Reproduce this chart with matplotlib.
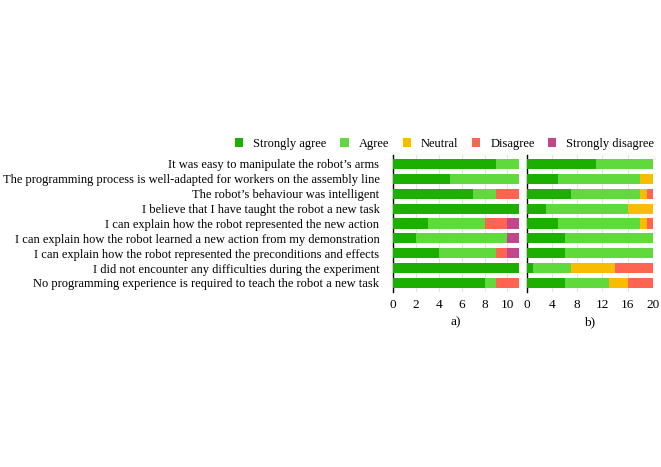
import numpy as np
import matplotlib.pyplot as plt
from matplotlib.patches import Patch

plt.rcParams['font.family'] = ['Liberation Serif', 'DejaVu Serif']

questions = [
    "It was easy to manipulate the robot\u2019s arms",
    "The programming process is well-adapted for workers on the assembly line",
    "The robot\u2019s behaviour was intelligent",
    "I believe that I have taught the robot a new task",
    "I can explain how the robot represented the new action",
    "I can explain how the robot learned a new action from my demonstration",
    "I can explain how the robot represented the preconditions and effects",
    "I did not encounter any difficulties during the experiment",
    "No programming experience is required to teach the robot a new task",
]
levels = ["Strongly agree", "Agree", "Neutral", "Disagree", "Strongly disagree"]
colors = ["#1daf00", "#5fd93b", "#f9bc00", "#ff6452", "#c2478a"]

# group a) - 11 participants
a_sa = [9, 5, 7, 11, 3, 2, 4, 11, 8]
a_ag = [2, 6, 2, 0, 5, 8, 5, 0, 1]
a_ne = [0, 0, 0, 0, 0, 0, 0, 0, 0]
a_di = [0, 0, 2, 0, 2, 0, 1, 0, 2]
a_sd = [0, 0, 0, 0, 1, 1, 1, 0, 0]

# group b) - 20 participants
b_sa = [11, 5, 7, 3, 5, 6, 6, 1, 6]
b_ag = [9, 13, 11, 13, 13, 14, 14, 6, 7]
b_ne = [0, 2, 1, 4, 1, 0, 0, 7, 3]
b_di = [0, 0, 1, 0, 1, 0, 0, 6, 4]
b_sd = [0, 0, 0, 0, 0, 0, 0, 0, 0]

fs = 9

fig = plt.figure(figsize=(6.61, 4.67), dpi=100)
ax1 = fig.add_axes([0.595, 0.375, 0.190, 0.293])
ax2 = fig.add_axes([0.797, 0.375, 0.1906, 0.293])

y = np.arange(len(questions))


def draw(ax, series, xmax, ticks, label):
    left = np.zeros(len(questions))
    for vals, c in zip(series, colors):
        vals = np.array(vals, dtype=float)
        ax.barh(y, vals, left=left, height=0.68, color=c, zorder=3)
        left += vals
    ax.set_xlim(0, xmax)
    ax.set_ylim(len(questions) - 0.5 + 0.1, -0.6)
    ax.set_xticks(ticks)
    ax.grid(axis='x', color='#e4e4e4', linewidth=0.8, zorder=0)
    for s in ['top', 'right', 'bottom']:
        ax.spines[s].set_visible(False)
    ax.spines['left'].set_linewidth(1.0)
    ax.tick_params(axis='x', length=0, labelsize=fs + 0.5, pad=5)
    ax.tick_params(axis='y', length=0)
    ax.set_xlabel(label, fontsize=fs + 0.5, labelpad=4)


draw(ax1, [a_sa, a_ag, a_ne, a_di, a_sd], 11, [0, 2, 4, 6, 8, 10], "a)")
ax1.set_yticks(y)
ax1.set_yticklabels(questions, fontsize=fs)
ax1.tick_params(axis='y', pad=10)

draw(ax2, [b_sa, b_ag, b_ne, b_di, b_sd], 20, [0, 4, 8, 12, 16, 20], "b)")
ax2.set_yticks([])

handles = [Patch(facecolor=c, label=l) for c, l in zip(colors, levels)]
fig.legend(handles=handles, loc='center', bbox_to_anchor=(0.673, 0.692), ncol=5,
           frameon=False, fontsize=fs, handlelength=0.65, handleheight=0.65,
           columnspacing=1.1, handletextpad=0.8)

fig.savefig("out.png", dpi=100)
